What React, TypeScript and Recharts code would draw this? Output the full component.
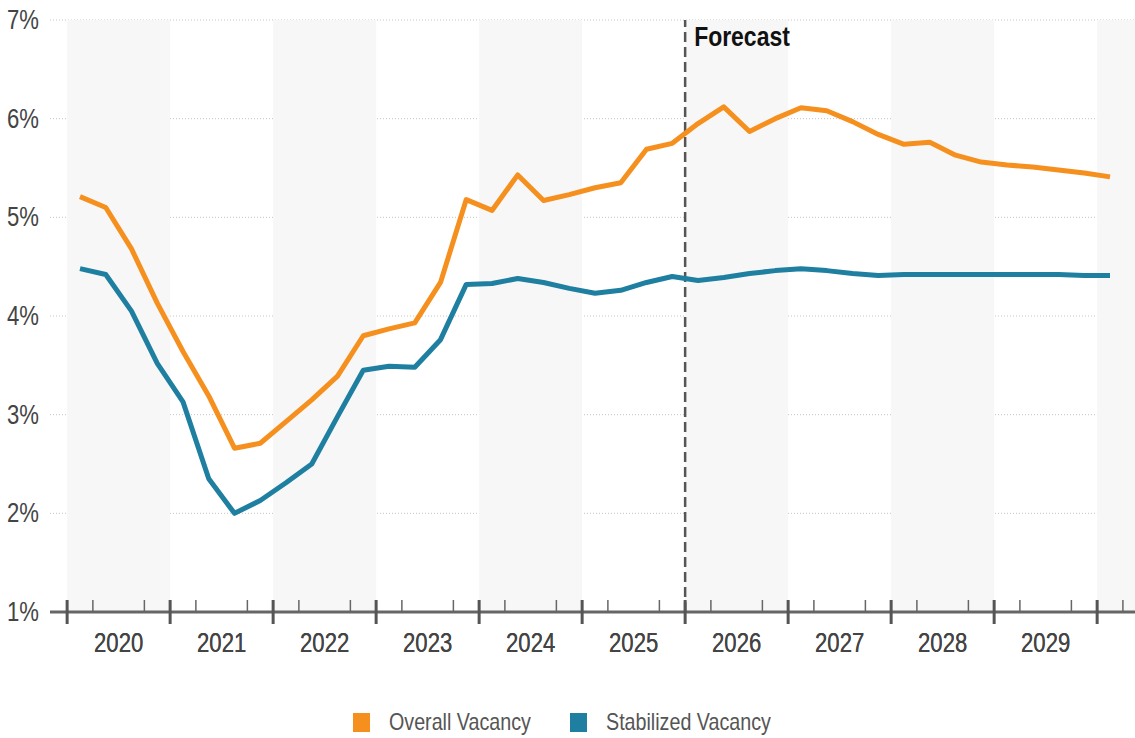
import {
  ComposedChart,
  Line,
  XAxis,
  YAxis,
  CartesianGrid,
  ReferenceLine,
  ReferenceArea,
} from "recharts";

const YEARS = ["2020", "2021", "2022", "2023", "2024", "2025", "2026", "2027", "2028", "2029"];

// quarterly values, 2020 Q1 .. 2030 Q1
const OVERALL = [
  5.21, 5.1, 4.68, 4.13, 3.64, 3.19, 2.66, 2.71, 2.93, 3.15,
  3.39, 3.8, 3.87, 3.93, 4.34, 5.18, 5.07, 5.43, 5.17, 5.23,
  5.3, 5.35, 5.69, 5.75, 5.95, 6.12, 5.87, 6.0, 6.11, 6.08,
  5.97, 5.84, 5.74, 5.76, 5.63, 5.56, 5.53, 5.51, 5.48, 5.45,
  5.41,
];
const STABILIZED = [
  4.48, 4.42, 4.05, 3.52, 3.13, 2.35, 2.0, 2.13, 2.31, 2.5,
  2.98, 3.45, 3.49, 3.48, 3.76, 4.32, 4.33, 4.38, 4.34, 4.28,
  4.23, 4.26, 4.34, 4.4, 4.36, 4.39, 4.43, 4.46, 4.48, 4.46,
  4.43, 4.41, 4.42, 4.42, 4.42, 4.42, 4.42, 4.42, 4.42, 4.41,
  4.41,
];
const Y_TICKS = [1, 2, 3, 4, 5, 6, 7];
const FORECAST_START = 23.5; // boundary 2025 | 2026

const ORANGE = "#F5901F";
const BLUE = "#1E7FA1";
const FONT = "'Liberation Sans', Arial, sans-serif";
const NARROW = 0.82; // the original uses a condensed face

const data = OVERALL.map((v, i) => ({ q: i, overall: v, stabilized: STABILIZED[i] }));

// quarter boundaries and year centres share the one axis
const boundaryTicks = Array.from({ length: 42 }, (_, j) => j - 0.5);
const centreTicks = YEARS.map((_, k) => k * 4 + 1.5);
const xTicks = [...boundaryTicks, ...centreTicks].sort((a, b) => a - b);

const shaded = [0, 2, 4, 6, 8, 10].map((k) => ({ x1: k * 4 - 0.5, x2: Math.min(k * 4 + 3.5, 40.97) }));

function NarrowText({ x, y, anchor = "start", size, weight, fill, children }: any) {
  return (
    <text
      transform={`translate(${x},${y}) scale(${NARROW},1)`}
      textAnchor={anchor}
      fontSize={size}
      fontWeight={weight}
      fill={fill}
      fontFamily={FONT}
    >
      {children}
    </text>
  );
}

function QuarterTick(props: any) {
  const { x, y, payload } = props;
  const v = payload.value as number;
  const centre = centreTicks.indexOf(v);
  if (centre >= 0) {
    return (
      <NarrowText x={x} y={y + 40} anchor="middle" size={27} fill="#444">
        {YEARS[centre]}
      </NarrowText>
    );
  }
  const major = (v + 0.5) % 4 === 0;
  return (
    <line
      x1={x}
      x2={x}
      y1={y - 12}
      y2={major ? y + 12 : y}
      stroke={major ? "#555" : "#666"}
      strokeWidth={major ? 3 : 1.5}
    />
  );
}

function PercentTick(props: any) {
  const { x, y, payload } = props;
  return (
    <NarrowText x={x} y={y + 9} anchor="end" size={27} fill="#444">
      {`${payload.value}%`}
    </NarrowText>
  );
}

function LegendItem({ color, label, width, gap }: { color: string; label: string; width: number; gap: number }) {
  return (
    <span style={{ display: "inline-flex", alignItems: "center", marginRight: gap, whiteSpace: "nowrap" }}>
      <span style={{ width: 17, height: 19, background: color, display: "inline-block", marginRight: 19 }} />
      <span style={{ display: "inline-block", width, overflow: "visible" }}>
        <span style={{ display: "inline-block", transform: `scaleX(${NARROW})`, transformOrigin: "left center" }}>
          {label}
        </span>
      </span>
    </span>
  );
}

export default function App() {
  return (
    <div style={{ position: "absolute", left: 0, top: 0, width: 1135, height: 738, background: "#fff" }}>
      <ComposedChart width={1135} height={738} data={data} margin={{ top: 20, right: 0, bottom: 96, left: 0 }}>
        {shaded.map((s) => (
          <ReferenceArea key={s.x1} x1={s.x1} x2={s.x2} y1={1} y2={7} fill="#f7f7f7" fillOpacity={1} stroke="none" />
        ))}
        <CartesianGrid vertical={false} stroke="#c4c4c4" strokeDasharray="1 2" />
        <XAxis
          dataKey="q"
          type="number"
          domain={[-1.165, 40.97]}
          ticks={xTicks}
          interval={0}
          tick={<QuarterTick />}
          tickLine={false}
          tickSize={0}
          tickMargin={0}
          height={30}
          axisLine={{ stroke: "#666", strokeWidth: 3 }}
          allowDataOverflow
        />
        <YAxis
          type="number"
          domain={[1, 7]}
          ticks={Y_TICKS}
          width={50}
          axisLine={false}
          tickLine={false}
          tickMargin={5}
          tick={<PercentTick />}
        />
        <ReferenceLine
          x={FORECAST_START}
          stroke="#555"
          strokeWidth={2.5}
          strokeDasharray="10 5"
          label={(p: any) => (
            <NarrowText x={p.viewBox.x + 9} y={p.viewBox.y + 26} size={28} weight="bold" fill="#111">
              Forecast
            </NarrowText>
          )}
        />
        <Line
          dataKey="overall"
          stroke={ORANGE}
          strokeWidth={5}
          dot={false}
          strokeLinejoin="round"
          isAnimationActive={false}
        />
        <Line
          dataKey="stabilized"
          stroke={BLUE}
          strokeWidth={5}
          dot={false}
          strokeLinejoin="round"
          isAnimationActive={false}
        />
      </ComposedChart>
      <div
        style={{
          position: "absolute",
          top: 708,
          left: 353,
          display: "flex",
          fontFamily: FONT,
          fontSize: 24,
          lineHeight: "28px",
          color: "#555",
        }}
      >
        <LegendItem color={ORANGE} label="Overall Vacancy" width={142} gap={39} />
        <LegendItem color={BLUE} label="Stabilized Vacancy" width={164} gap={0} />
      </div>
    </div>
  );
}
